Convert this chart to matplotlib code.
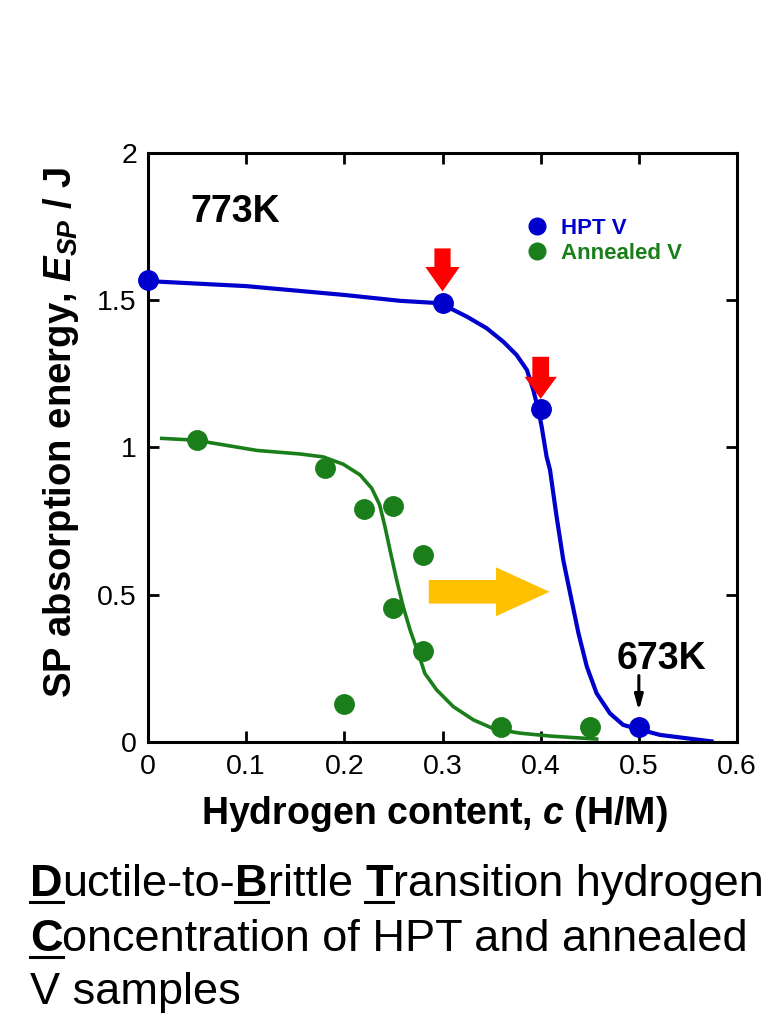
import matplotlib
matplotlib.use("Agg")
import matplotlib.pyplot as plt
from matplotlib.lines import Line2D

# measured points
hpt_c = [0.0, 0.3, 0.4, 0.5]
hpt_e = [1.57, 1.49, 1.13, 0.05]

ann_c = [0.05, 0.18, 0.22, 0.25, 0.28, 0.25, 0.28, 0.20, 0.36, 0.45]
ann_e = [1.025, 0.93, 0.79, 0.80, 0.635, 0.455, 0.31, 0.13, 0.05, 0.05]

# fitted curves
hpt_fit_c = [0.0, 0.1, 0.2, 0.257, 0.2975, 0.325, 0.345, 0.362, 0.3755, 0.386,
             0.3925, 0.3976, 0.401, 0.406, 0.4095, 0.416, 0.423, 0.430, 0.4385,
             0.447, 0.457, 0.4706, 0.484, 0.498, 0.5215, 0.549, 0.574]
hpt_fit_e = [1.565, 1.548, 1.518, 1.498, 1.49, 1.444, 1.405, 1.359, 1.314, 1.263,
             1.195, 1.127, 1.071, 0.969, 0.924, 0.77, 0.618, 0.505, 0.369,
             0.256, 0.165, 0.097, 0.058, 0.045, 0.024, 0.0125, 0.002]

ann_fit_c = [0.014, 0.048, 0.111, 0.155, 0.1786, 0.199, 0.216, 0.228, 0.236, 0.2414,
             0.2465, 0.2533, 0.260, 0.267, 0.2754, 0.282, 0.294, 0.311, 0.3315,
             0.352, 0.379, 0.41, 0.457]
ann_fit_e = [1.031, 1.025, 0.99, 0.978, 0.968, 0.943, 0.907, 0.861, 0.805, 0.731,
             0.652, 0.550, 0.459, 0.380, 0.301, 0.233, 0.177, 0.120, 0.075,
             0.045, 0.03, 0.02, 0.01]

xticks = [0, 0.1, 0.2, 0.3, 0.4, 0.5, 0.6]
xticklabels = ["0", "0.1", "0.2", "0.3", "0.4", "0.5", "0.6"]
yticks = [0, 0.5, 1, 1.5, 2]
yticklabels = ["0", "0.5", "1", "1.5", "2"]

BLUE = "#0000CC"
GREEN = "#1A7F1A"
RED = "#FF0000"
GOLD = "#FFC000"

plt.rcParams["font.family"] = ["Liberation Sans", "DejaVu Sans"]
plt.rcParams["mathtext.fontset"] = "custom"
plt.rcParams["mathtext.it"] = "Liberation Sans:bold:italic"
plt.rcParams["mathtext.rm"] = "Liberation Sans:bold"

fig = plt.figure(figsize=(7.64, 10.16), dpi=100)
ax = fig.add_axes([0.1937, 0.2697, 0.771, 0.5797])

ax.plot(hpt_fit_c, hpt_fit_e, color=BLUE, lw=3, zorder=2, solid_joinstyle="round")
ax.plot(ann_fit_c, ann_fit_e, color=GREEN, lw=2.6, zorder=2, solid_joinstyle="round")
ax.plot(hpt_c, hpt_e, "o", color=BLUE, ms=14, zorder=3, clip_on=False)
ax.plot(ann_c, ann_e, "o", color=GREEN, ms=14, zorder=3)

ax.set_xlim(0, 0.6)
ax.set_ylim(0, 2)
ax.set_xticks(xticks)
ax.set_xticklabels(xticklabels, fontsize=20.5)
ax.set_yticks(yticks)
ax.set_yticklabels(yticklabels, fontsize=20.5)
ax.tick_params(direction="in", length=8, width=2, top=True, right=True)
ax.tick_params(axis="x", pad=9)
ax.tick_params(axis="y", pad=8)
for s in ax.spines.values():
    s.set_linewidth(2.2)

ax.set_xlabel(r"Hydrogen content, $c$ (H/M)", fontsize=27, fontweight="bold")
ax.set_ylabel(r"SP absorption energy, $E_{SP}$ / J", fontsize=27.5, fontweight="bold")
ax.xaxis.set_label_coords(0.486, -0.088)
ax.yaxis.set_label_coords(-0.113, 0.526)

# arrows
ax.arrow(0.3, 1.676, 0, 1.53 - 1.676, width=0.0165, head_width=0.035,
         head_length=0.083, length_includes_head=True, color=RED, lw=0, zorder=4)
ax.arrow(0.4, 1.308, 0, 1.165 - 1.308, width=0.017, head_width=0.033,
         head_length=0.075, length_includes_head=True, color=RED, lw=0, zorder=4)
ax.arrow(0.286, 0.51, 0.409 - 0.286, 0, width=0.08, head_width=0.166,
         head_length=0.0545, length_includes_head=True, color=GOLD, lw=0, zorder=1)
ax.annotate("", xy=(0.5, 0.097), xytext=(0.5, 0.235),
            arrowprops=dict(arrowstyle="-|>,head_length=0.9,head_width=0.25",
                            color="black", lw=2.2))

ax.text(0.043, 1.767, "773K", fontsize=27, fontweight="bold")
ax.text(0.477, 0.249, "673K", fontsize=27, fontweight="bold")

handles = [Line2D([], [], ls="none", marker="o", color=BLUE, ms=12),
           Line2D([], [], ls="none", marker="o", color=GREEN, ms=12)]
leg = ax.legend(handles, ["HPT V", "Annealed V"], loc="upper left",
                bbox_to_anchor=(0.598, 0.924), frameon=False, handletextpad=0.35,
                handlelength=1.5, labelspacing=0.2, prop=dict(size=16, weight="bold"))
for t, c in zip(leg.get_texts(), [BLUE, GREEN]):
    t.set_color(c)

# caption with bold underlined initials
caption = [
    [("D", True), ("uctile-to-", False), ("B", True), ("rittle ", False),
     ("T", True), ("ransition hydrogen", False)],
    [("C", True), ("oncentration of HPT and annealed", False)],
    [("V samples", False)],
]
renderer = fig.canvas.get_renderer()
x0, y_base = 30, [896, 951, 1004]
for line, yb in zip(caption, y_base):
    x = x0
    for txt, bold in line:
        t = fig.text(x / 764, 1 - yb / 1016, txt, fontsize=32.5,
                     fontweight="bold" if bold else "normal", va="baseline")
        bb = t.get_window_extent(renderer)
        if bold:
            y_ul = (1016 - yb - 6) / 1016
            fig.add_artist(Line2D([bb.x0 / 764, bb.x1 / 764], [y_ul, y_ul],
                                  color="black", lw=2.2, transform=fig.transFigure))
        x = bb.x1

fig.savefig("out.png", dpi=100)
